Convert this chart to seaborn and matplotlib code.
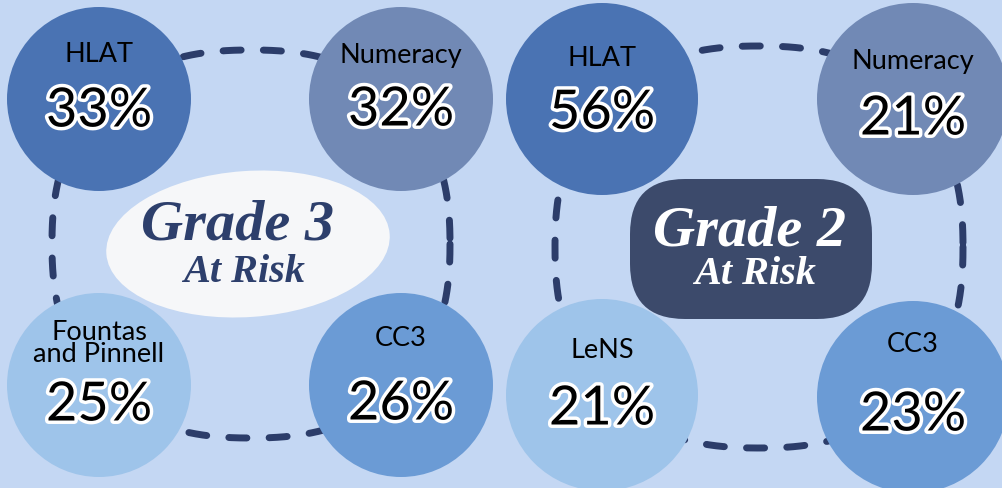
import numpy as np
import pandas as pd
import matplotlib
matplotlib.use("Agg")
import matplotlib.pyplot as plt
import matplotlib.patheffects as pe
from matplotlib.patches import Ellipse, FancyBboxPatch
import seaborn as sns

# ---------------- data ----------------
grades = ["Grade 3", "Grade 2"]
grade3_measures = ["HLAT", "Numeracy", "Fountas\nand Pinnell", "CC3"]
grade3_values = [33, 32, 25, 26]
grade2_measures = ["HLAT", "Numeracy", "LeNS", "CC3"]
grade2_values = [56, 21, 21, 23]
subtitle = "At Risk"

# ---------------- layout (pixels) ----------------
W, H = 1003, 489
BG = "#c4d7f3"
NAVY = "#2c3d6a"
slot_colors = ["#4a73b3", "#7189b5", "#9ec4ea", "#6b9bd5"]
g3_cx = [99, 401, 99, 401]
g3_cy = [100, 100, 386, 386]
g2_cx = [602, 913, 602, 913]
g2_cy = [100, 100, 396, 398]
g3_r, g2_r = 92, 96
g3_lab_dy = [-45, -45, -42, -47]
g2_lab_dy = [-42, -38, -46, -54]
g3_val_dy = [12, 11, 20, 19]
g2_val_dy = [14, 20, 14, 18]

sns.set_theme(style="white")
plt.rcParams["font.family"] = ["Lato", "DejaVu Sans"]

fig = plt.figure(figsize=(W / 100, H / 100), dpi=100, facecolor=BG)
ax = fig.add_axes([0, 0, 1, 1])
ax.set_facecolor(BG)
ax.set_xlim(0, W)
ax.set_ylim(H, 0)
ax.set_axis_off()

px2pt = 72 / 100.0


def loop(cx, cy, a, b, n=2.35):
    t = np.linspace(0, 2 * np.pi, 600)
    c, s = np.cos(t), np.sin(t)
    x = cx + a * np.sign(c) * np.abs(c) ** (2 / n)
    y = cy + b * np.sign(s) * np.abs(s) ** (2 / n)
    ax.plot(x, y, color=NAVY, lw=5, linestyle=(0, (2.6, 3.2)),
            dash_capstyle="round", zorder=1)


loop(251, 245, 199, 194)
loop(759, 248, 204, 201)

# circles
rows = []
for i in range(4):
    rows.append(dict(x=g3_cx[i], y=g3_cy[i], slot=i, d=2 * g3_r))
    rows.append(dict(x=g2_cx[i], y=g2_cy[i], slot=i, d=2 * g2_r))
df = pd.DataFrame(rows)
for d, sub in df.groupby("d"):
    sns.scatterplot(data=sub, x="x", y="y", hue="slot",
                    palette={i: c for i, c in enumerate(slot_colors)},
                    s=(d * px2pt) ** 2, linewidth=0, legend=False, ax=ax,
                    zorder=3)

val_fx = [pe.withStroke(linewidth=5, foreground="white")]


def put(cx, cy, lab, val, ldy, vdy):
    ax.text(cx, cy + ldy, lab, ha="center", va="center", fontsize=19.5,
            color="black", linespacing=0.85, zorder=5)
    ax.text(cx, cy + vdy, f"{val}%", ha="center", va="center", fontsize=39,
            color="black", path_effects=val_fx, zorder=5)


for i in range(4):
    put(g3_cx[i], g3_cy[i], grade3_measures[i], grade3_values[i],
        g3_lab_dy[i], g3_val_dy[i])
    put(g2_cx[i], g2_cy[i], grade2_measures[i], grade2_values[i],
        g2_lab_dy[i], g2_val_dy[i])

# centre blobs
ax.add_patch(Ellipse((248, 245), 284, 146, angle=-4, facecolor="#f6f7f9",
                     edgecolor="none", zorder=4))
ax.add_patch(FancyBboxPatch((664, 214), 174, 72,
                            boxstyle="round,pad=34,rounding_size=55",
                            facecolor="#3c4a6b", edgecolor="none", zorder=4))

title_font = dict(family=["Liberation Serif", "DejaVu Serif"], style="italic",
                  weight="bold", ha="center", va="center", zorder=6)
ax.text(238, 226, grades[0], fontsize=42, color="#2d3f6c", **title_font)
ax.text(244, 272, subtitle, fontsize=29, color="#2d3f6c", **title_font)
ax.text(750, 232, grades[1], fontsize=42, color="white", **title_font)
ax.text(755, 274, subtitle, fontsize=29, color="white", **title_font)

fig.savefig("out.png", dpi=100, facecolor=BG)
